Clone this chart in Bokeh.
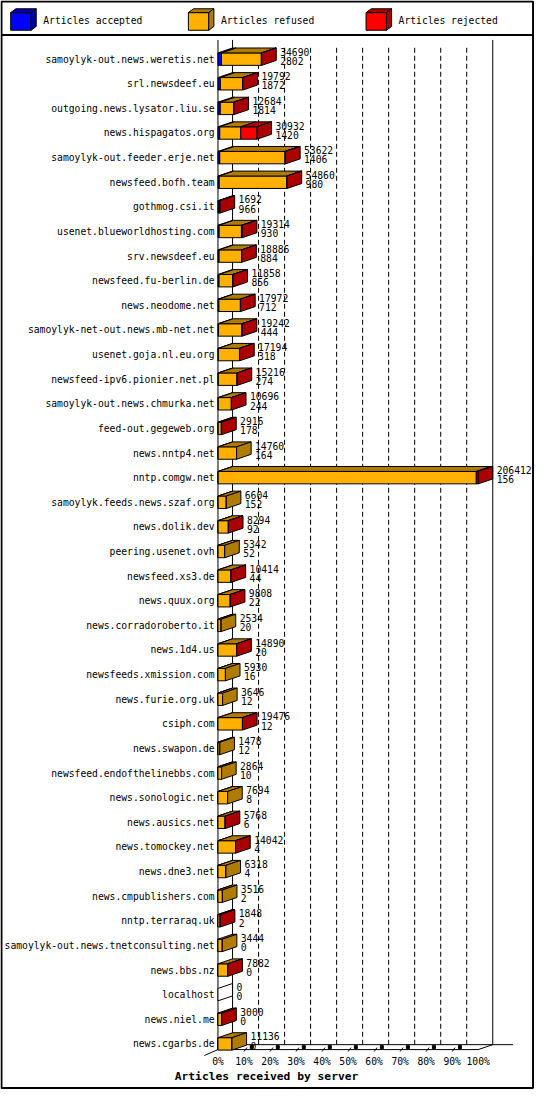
from bokeh.plotting import figure
from bokeh.models import Range1d
from bokeh.core.properties import value
from bokeh.embed import file_html
from bokeh.resources import INLINE

# ---------------- data ----------------
servers = [
    "samoylyk-out.news.weretis.net", "srl.newsdeef.eu", "outgoing.news.lysator.liu.se",
    "news.hispagatos.org", "samoylyk-out.feeder.erje.net", "newsfeed.bofh.team",
    "gothmog.csi.it", "usenet.blueworldhosting.com", "srv.newsdeef.eu",
    "newsfeed.fu-berlin.de", "news.neodome.net", "samoylyk-net-out.news.mb-net.net",
    "usenet.goja.nl.eu.org", "newsfeed-ipv6.pionier.net.pl", "samoylyk-out.news.chmurka.net",
    "feed-out.gegeweb.org", "news.nntp4.net", "nntp.comgw.net",
    "samoylyk.feeds.news.szaf.org", "news.dolik.dev", "peering.usenet.ovh",
    "newsfeed.xs3.de", "news.quux.org", "news.corradoroberto.it",
    "news.1d4.us", "newsfeeds.xmission.com", "news.furie.org.uk",
    "csiph.com", "news.swapon.de", "newsfeed.endofthelinebbs.com",
    "news.sonologic.net", "news.ausics.net", "news.tomockey.net",
    "news.dne3.net", "news.cmpublishers.com", "nntp.terraraq.uk",
    "samoylyk-out.news.tnetconsulting.net", "news.bbs.nz", "localhost",
    "news.niel.me", "news.cgarbs.de",
]
accepted = [2802, 1872, 1814, 1420, 1406, 980, 966, 930, 884, 856, 712, 444, 318, 274,
            244, 178, 164, 156, 152, 92, 52, 44, 22, 20, 20, 16, 12, 12, 12, 10, 8, 6,
            4, 4, 2, 2, 0, 0, 0, 0, 0]
refused = [31588, 17720, 10720, 16712, 51716, 53480, 0, 17684, 17852, 10902, 17060,
           18598, 16726, 14842, 10352, 2438, 14596, 204756, 6452, 8102, 5290, 10270,
           9686, 2514, 14770, 5914, 3634, 19364, 1466, 2854, 7686, 5662, 13938, 6314,
           3514, 1696, 3444, 7782, 0, 2800, 11136]
rejected = [300, 200, 150, 12800, 500, 400, 726, 700, 150, 100, 200, 200, 150, 100,
            100, 300, 0, 1500, 0, 100, 0, 100, 100, 0, 100, 0, 0, 100, 0, 0, 0, 100,
            100, 0, 0, 150, 0, 100, 0, 200, 0]
series_names = ["Articles accepted", "Articles refused", "Articles rejected"]
tick_pcts = [0, 10, 20, 30, 40, 50, 60, 70, 80, 90, 100]
tick_labels = ["%d%%" % t for t in tick_pcts]
x_title = "Articles received by server"

# ---------------- style / layout ----------------
front_colors = ["#0000ff", "#ffb000", "#ff0000"]
dark_colors = ["#0000a8", "#b07c00", "#aa0000"]
MONO = "DejaVu Sans Mono"

W, H = 534, 1089
REF_W, REF_H = 550, 1105
S = W / REF_W
PX_PER_PCT = 2.68
X0 = 224.0
Y0 = 59.5
ROW = 24.98


def xp(px):
    return (px - X0) / PX_PER_PCT


def yp(py):
    return (py - Y0) / ROW


DX = 15 / PX_PER_PCT
DY = 5 / ROW
HH = 6.3 / ROW
FS = "%.1fpx" % (10 * S)
FS_B = "%.1fpx" % (11.6 * S)

p = figure(width=W, height=H, x_range=Range1d(xp(0), xp(REF_W)),
           y_range=Range1d(yp(REF_H), yp(0)), output_backend="svg",
           toolbar_location=None, min_border=0,
           x_axis_location=None, y_axis_location=None)
p.grid.visible = False
p.outline_line_color = None
p.background_fill_color = "white"
p.border_fill_color = "white"

n = len(servers)
series = [accepted, refused, rejected]
totals = [accepted[i] + refused[i] + rejected[i] for i in range(n)]
max_total = max(totals)
ys = list(range(n))

# ---- back wall and floor ----
y_top = yp(40)
y_back_floor = yp(1059.5)
y_front_floor = yp(1064.5)
grid_x = [t + DX for t in tick_pcts[1:-1]]
p.segment(x0=grid_x, y0=[yp(48)] * len(grid_x), x1=grid_x, y1=[y_back_floor] * len(grid_x),
          line_color="black", line_width=1, line_dash="5 3")
p.segment(x0=[DX, 100 + DX, 0], y0=[y_top, y_top, y_top],
          x1=[DX, 100 + DX, 0], y1=[y_back_floor, y_back_floor, y_front_floor],
          line_color="black", line_width=1)
p.segment(x0=[DX, 0, 100, 0], y0=[y_back_floor, y_front_floor, y_front_floor, y_front_floor],
          x1=[xp(528), 100, 100 + DX, xp(210)],
          y1=[y_back_floor, y_front_floor, y_back_floor, yp(1070.5)],
          line_color="black", line_width=1)
tk = tick_pcts[1:-1]
p.segment(x0=tk, y0=[yp(1066.5)] * len(tk), x1=[t + 3 / PX_PER_PCT for t in tk],
          y1=[yp(1062.5)] * len(tk), line_color="black", line_width=1)
p.scatter(x=[t + 8 / PX_PER_PCT for t in tk], y=[yp(1062)] * len(tk), marker="square",
          size=3, fill_color="black", line_color="black")

# ---- bars ----
cum = [0.0] * n
for k in range(3):
    lefts = [cum[i] for i in range(n)]
    rights = [cum[i] + series[k][i] / max_total * 100 for i in range(n)]
    idx = [i for i in range(n) if totals[i] > 0]
    p.quad(left=[lefts[i] for i in idx], right=[rights[i] for i in idx],
           top=[i - HH for i in idx], bottom=[i + HH for i in idx],
           fill_color=front_colors[k], line_color="black", line_width=1)
    tidx = [i for i in idx if series[k][i] > 0]
    p.patches(xs=[[lefts[i], rights[i], rights[i] + DX, lefts[i] + DX] for i in tidx],
              ys=[[i - HH, i - HH, i - HH - DY, i - HH - DY] for i in tidx],
              fill_color=dark_colors[k], line_color="black", line_width=1)
    cum = rights

side_xs, side_ys, side_cols = [], [], []
for i in range(n):
    e = cum[i]
    col = "white"
    for k in range(3):
        if series[k][i] > 0:
            col = dark_colors[k]
    side_xs.append([e, e + DX, e + DX, e])
    side_ys.append([i - HH, i - HH - DY, i + HH - DY, i + HH])
    side_cols.append(col)
p.patches(xs=side_xs, ys=side_ys, fill_color=side_cols, line_color="black", line_width=1)

# ---- value labels ----
lab_x = [cum[i] + DX + 4 / PX_PER_PCT for i in range(n)]
p.text(x=lab_x, y=[i - 0.30 for i in ys], text=[str(t) for t in totals],
       text_font=value(MONO), text_font_size=value(FS), text_align="left",
       text_baseline="middle", text_color="black")
p.text(x=lab_x, y=[i + 0.07 for i in ys], text=[str(a) for a in accepted],
       text_font=value(MONO), text_font_size=value(FS), text_align="left",
       text_baseline="middle", text_color="black")

# ---- category labels ----
p.text(x=[xp(220.5)] * n, y=ys, text=servers, text_font=value(MONO),
       text_font_size=value(FS), text_align="right", text_baseline="middle",
       text_color="black")

# ---- x tick labels and title ----
p.text(x=tick_pcts, y=[yp(1077)] * len(tick_pcts), text=tick_labels,
       text_font=value(MONO), text_font_size=value(FS), text_align="center",
       text_baseline="middle", text_color="black")
p.text(x=[xp(274)], y=[yp(1092)], text=[x_title], text_font=value(MONO),
       text_font_size=value(FS_B), text_font_style="bold", text_align="center",
       text_baseline="middle", text_color="black")

# ---- legend ----
leg_x_px = [10.5, 193.5, 376.5]
for k in range(3):
    lx0, lx1 = xp(leg_x_px[k]), xp(leg_x_px[k] + 21)
    ly0, ly1 = yp(12.3), yp(30.2)
    ddx, ddy = 5.3 / PX_PER_PCT, 3.9 / ROW
    p.quad(left=[lx0], right=[lx1], top=[ly0], bottom=[ly1],
           fill_color=front_colors[k], line_color="black", line_width=1)
    p.patches(xs=[[lx0, lx1, lx1 + ddx, lx0 + ddx], [lx1, lx1 + ddx, lx1 + ddx, lx1]],
              ys=[[ly0, ly0, ly0 - ddy, ly0 - ddy], [ly0, ly0 - ddy, ly1 - ddy, ly1]],
              fill_color=dark_colors[k], line_color="black", line_width=1)
p.text(x=[xp(x + 33.5) for x in leg_x_px], y=[yp(20.5)] * 3, text=series_names,
       text_font=value(MONO), text_font_size=value(FS), text_align="left",
       text_baseline="middle", text_color="black")

# ---- frame ----
p.quad(left=[xp(1)], right=[xp(548.5)], top=[yp(1)], bottom=[yp(1103.5)],
       fill_color=None, line_color="black", line_width=2)
p.segment(x0=[xp(1)], y0=[yp(35)], x1=[xp(548.5)], y1=[yp(35)],
          line_color="black", line_width=2)

open("out.html", "w").write(file_html(p, INLINE))
